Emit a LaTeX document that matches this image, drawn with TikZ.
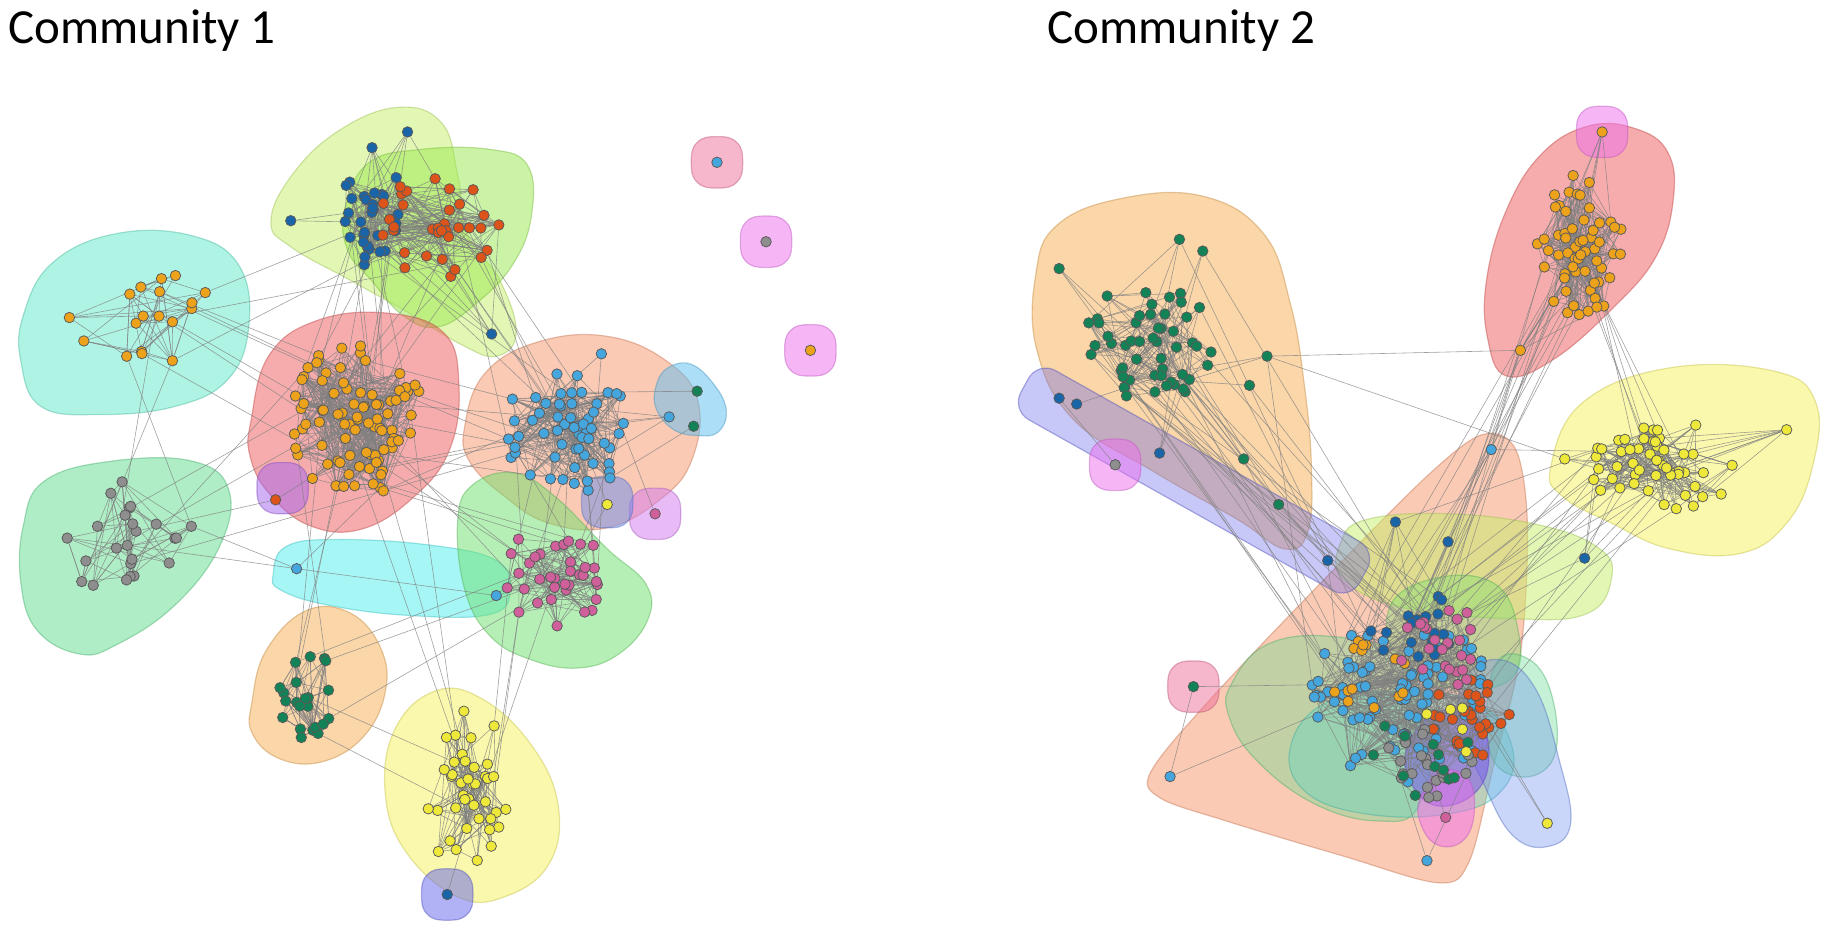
\documentclass[tikz,border=0pt]{standalone}
\usepackage{fontspec}
\setmainfont{Carlito}
\pgfdeclarelayer{blobs}
\pgfdeclarelayer{nodesfg}
\pgfsetlayers{blobs,main,nodesfg}
% node colours
\definecolor{nOrange}{HTML}{EDA21C}
\definecolor{nBlue}{HTML}{1A64A8}
\definecolor{nRed}{HTML}{DD541A}
\definecolor{nLight}{HTML}{45A6DE}
\definecolor{nGray}{HTML}{8E8E8E}
\definecolor{nPink}{HTML}{D0609C}
\definecolor{nGreen}{HTML}{148257}
\definecolor{nYellow}{HTML}{EEE83A}
% blob colours
\definecolor{bYG}{HTML}{C6F06A}
\definecolor{bGreenB}{HTML}{98E84E}
\definecolor{bAqua}{HTML}{5EE8C8}
\definecolor{bRed}{HTML}{EE5A5A}
\definecolor{bPeach}{HTML}{F6956A}
\definecolor{bSky}{HTML}{5CBDF0}
\definecolor{bPurple}{HTML}{A263EE}
\definecolor{bViolet}{HTML}{D278EE}
\definecolor{bLGreen}{HTML}{5EDC8C}
\definecolor{bCyan}{HTML}{4EEEEE}
\definecolor{bGreen}{HTML}{6CE06C}
\definecolor{bTan}{HTML}{F5AE52}
\definecolor{bYellow}{HTML}{F6F25A}
\definecolor{bIndigo}{HTML}{6464EC}
\definecolor{bPink}{HTML}{EE6E98}
\definecolor{bMagenta}{HTML}{EE6EEE}
\definecolor{bTeal}{HTML}{50D8C8}
\definecolor{bBlue}{HTML}{6A8CF0}
\definecolor{bViolet2}{HTML}{7A4CF0}
\tikzset{
  nd/.style={circle, draw=black!65, line width=0.75pt, fill=#1, minimum size=10.5pt, inner sep=0pt},
  edge/.style={draw=black!50, line width=0.6pt, draw opacity=0.75},
  blob/.style={fill=#1, fill opacity=0.5, draw=#1!80!black, draw opacity=0.45, line width=1.2pt},
  lblob/.style={blob=#1, fill opacity=0.36},
  title/.style={font=\fontsize{49pt}{57pt}\selectfont, anchor=base west, inner sep=0pt}
}
% cluster of nodes: prefix, N, cx, cy, sx, sy, colour
\newcommand\mkcl[7]{%
  \foreach \i in {1,...,#2}{%
    \pgfmathsetmacro\ang{360*rnd}%
    \pgfmathsetmacro\rad{rnd^0.65}%
    \pgfmathsetmacro\px{#3+#5*\rad*cos(\ang)}%
    \pgfmathsetmacro\py{#4+#6*\rad*sin(\ang)}%
    \node[nd=#7] (#1\i) at (\px,\py) {};
  }}
% edges inside a cluster: prefix, N, k
\newcommand\mked[3]{%
  \foreach \i in {1,...,#2}{%
    \foreach \k in {1,...,#3}{%
      \pgfmathtruncatemacro\j{min(#2,1+floor((rnd^1.6)*#2))}%
      \ifnum\j=\i\relax\else\draw[edge] (#1\i) -- (#1\j);\fi
    }}}
% edges between clusters: prefA, NA, prefB, NB, count
\newcommand\lk[5]{%
  \foreach \k in {1,...,#5}{%
    \pgfmathtruncatemacro\ia{min(#2,1+floor(rnd*#2))}%
    \pgfmathtruncatemacro\ib{min(#4,1+floor(rnd*#4))}%
    \draw[edge] (#1\ia) -- (#3\ib);
  }}
\newcommand\smb[3]{% small squircle blob: colour, x, y
  \path[blob=#1] plot[smooth cycle, tension=0.8] coordinates {(#2-22,#3) (#2-17,#3-17) (#2,#3-22) (#2+17,#3-17) (#2+22,#3) (#2+17,#3+17) (#2,#3+22) (#2-17,#3+17)};}
\begin{document}
\begin{tikzpicture}[x=1.1677pt, y=-1.1677pt]
\pgfmathsetseed{4242}
\useasboundingbox (0,0) rectangle (1568,797);
\node[title] (t1) at (7,37) {Community 1};
\node[title] (t2) at (897,37) {Community 2};

\begin{pgfonlayer}{blobs}
% ---------- Community 1 blobs
\path[blob=bYG] plot[smooth cycle, tension=0.7] coordinates {(232,190) (250,150) (290,112) (340,92) (378,105) (392,150) (400,200) (428,240) (442,285) (425,305) (395,295) (350,268) (300,240) (250,212)};
\path[blob=bGreenB] plot[smooth cycle, tension=0.7] coordinates {(295,180) (315,140) (360,128) (420,128) (452,142) (455,185) (440,225) (410,258) (375,280) (345,270) (318,240) (298,215)};
\path[blob=bAqua] plot[smooth cycle, tension=0.7] coordinates {(20,270) (45,225) (100,200) (165,202) (205,228) (213,280) (195,325) (150,348) (85,355) (35,348) (18,310)};
\path[blob=bRed] plot[smooth cycle, tension=0.7] coordinates {(215,360) (230,305) (270,275) (330,268) (380,285) (393,330) (385,385) (355,425) (310,453) (265,450) (230,422) (214,390)};
\path[blob=bPeach] plot[smooth cycle, tension=0.7] coordinates {(398,365) (415,320) (460,293) (520,288) (572,310) (598,345) (592,395) (565,428) (520,452) (470,448) (432,425) (402,395)};
\path[blob=bSky] plot[smooth cycle, tension=0.7] coordinates {(562,330) (572,315) (592,312) (612,330) (622,352) (615,370) (598,373) (577,368) (562,350)};
\path[blob=bLGreen] plot[smooth cycle, tension=0.7] coordinates {(20,450) (38,412) (95,395) (165,395) (196,420) (188,468) (150,518) (100,552) (68,560) (32,540) (18,500)};
\path[blob=bCyan] plot[smooth cycle, tension=0.7] coordinates {(234,492) (245,468) (290,462) (370,467) (425,480) (437,505) (420,526) (350,527) (280,518) (240,505)};
\path[blob=bGreen] plot[smooth cycle, tension=0.7] coordinates {(392,445) (405,415) (440,405) (475,425) (520,470) (553,500) (555,530) (530,560) (495,572) (455,565) (420,545) (398,505)};
\path[blob=bTan] plot[smooth cycle, tension=0.7] coordinates {(216,600) (228,557) (262,523) (300,525) (326,555) (330,592) (312,630) (277,652) (240,650) (216,628)};
\path[blob=bYellow] plot[smooth cycle, tension=0.7] coordinates {(330,680) (338,625) (372,592) (412,598) (455,638) (478,690) (470,740) (432,768) (392,768) (348,730)};
\smb{bIndigo}{383}{766}
\smb{bPink}{614}{139}
\smb{bMagenta}{656}{207}
\smb{bMagenta}{694}{300}
\smb{bPurple}{242}{418}
\smb{bViolet}{561}{440}
\smb{bBlue}{520}{430}
% ---------- Community 2 blobs
\path[blob=bTan] plot[smooth cycle, tension=0.7] coordinates {(887,235) (905,193) (960,170) (1030,168) (1082,200) (1105,260) (1117,330) (1123,400) (1120,455) (1100,470) (1060,445) (990,405) (920,360) (888,300)};
\path[blob=bPeach] plot[smooth cycle, tension=0.55] coordinates {(1270,372) (1298,385) (1308,450) (1302,560) (1278,660) (1258,738) (1232,756) (1150,733) (1050,703) (993,683) (986,660) (1040,595) (1140,490) (1225,405)};
\path[blob=bRed] plot[smooth cycle, tension=0.7] coordinates {(1290,322) (1274,290) (1273,240) (1290,180) (1320,132) (1360,108) (1400,110) (1428,130) (1433,170) (1418,220) (1380,265) (1330,308)};
\path[blob=bYellow] plot[smooth cycle, tension=0.7] coordinates {(1328,400) (1355,345) (1430,315) (1520,318) (1555,345) (1552,400) (1530,448) (1490,474) (1430,470) (1380,448) (1338,425)};
\path[blob=bYG] plot[smooth cycle, tension=0.7] coordinates {(1148,465) (1170,445) (1240,440) (1320,450) (1370,470) (1380,495) (1360,525) (1300,530) (1200,520) (1150,495)};
\path[lblob=bIndigo, rounded corners=20] (866,351) -- (889,309) -- (1179,472) -- (1156,514) -- cycle;
\smb{bMagenta}{955}{398}
\smb{bMagenta}{1372}{113}
\smb{bPink}{1022}{588}
\path[lblob=bLGreen] plot[smooth cycle, tension=0.7] coordinates {(1055,585) (1085,552) (1140,545) (1195,562) (1225,620) (1215,690) (1180,703) (1125,688) (1075,650) (1052,612)};
\path[lblob=bGreen] plot[smooth cycle, tension=0.7] coordinates {(1190,520) (1230,495) (1280,500) (1300,540) (1295,580) (1250,590) (1200,570)};
\path[lblob=bTeal] plot[smooth cycle, tension=0.7] coordinates {(1105,640) (1135,602) (1200,592) (1265,602) (1295,640) (1285,678) (1240,697) (1170,697) (1118,678)};
\path[lblob=bLGreen] plot[smooth cycle, tension=0.7] coordinates {(1280,570) (1310,565) (1330,600) (1330,650) (1300,665) (1275,640)};
\path[lblob=bBlue] plot[smooth cycle, tension=0.7] coordinates {(1255,580) (1285,565) (1315,590) (1335,650) (1345,705) (1325,725) (1295,715) (1270,670) (1250,620)};
\path[blob=bViolet2] plot[smooth cycle, tension=0.7] coordinates {(1205,640) (1230,610) (1265,615) (1275,650) (1262,680) (1230,690) (1208,670)};
\path[blob=bMagenta] plot[smooth cycle, tension=0.7] coordinates {(1218,680) (1235,660) (1258,668) (1262,700) (1250,722) (1228,722) (1215,700)};
\end{pgfonlayer}

\begin{pgfonlayer}{nodesfg}
% ---------- Community 1 nodes
\mkcl{bl}{34}{320}{178}{28}{52}{nBlue}
\mkcl{ore}{34}{375}{195}{55}{48}{nRed}
\mkcl{cy}{18}{118}{272}{72}{52}{nOrange}
\mkcl{rd}{90}{305}{360}{60}{66}{nOrange}
\mkcl{lb}{58}{488}{370}{62}{52}{nLight}
\mkcl{gr}{24}{100}{462}{70}{55}{nGray}
\mkcl{pk}{35}{470}{495}{52}{42}{nPink}
\mkcl{dg}{22}{262}{592}{25}{42}{nGreen}
\mkcl{yl}{40}{398}{675}{40}{70}{nYellow}
\node[nd=nBlue] (ob1) at (349,113) {};
\node[nd=nBlue] (ob2) at (249,189) {};
\node[nd=nBlue] (ob3) at (421,286) {};
\node[nd=nLight] (olb1) at (515,303) {};
\node[nd=nGreen] (sk1) at (597,335) {};
\node[nd=nGreen] (sk2) at (594,365) {};
\node[nd=nLight] (sk3) at (573,357) {};
\node[nd=nLight] (cyn1) at (254,487) {};
\node[nd=nLight] (cyn2) at (425,510) {};
\node[nd=nRed] (pu1) at (236,428) {};
\node[nd=nPink] (vi1) at (561,440) {};
\node[nd=nYellow] (lav1) at (520,432) {};
\node[nd=nLight] (iso1) at (614,139) {};
\node[nd=nGray] (iso2) at (656,207) {};
\node[nd=nOrange] (iso3) at (694,300) {};
\node[nd=nBlue] (ind1) at (383,766) {};
% ---------- Community 2 nodes
\mkcl{gg}{52}{985}{290}{55}{55}{nGreen}
\mkcl{ro}{58}{1352}{205}{40}{68}{nOrange}
\mkcl{yy}{52}{1425}{400}{65}{40}{nYellow}
\mkcl{cb}{85}{1200}{598}{82}{72}{nLight}
\mkcl{cdb}{18}{1210}{530}{40}{35}{nBlue}
\mkcl{co}{14}{1165}{575}{50}{35}{nOrange}
\mkcl{cor}{28}{1258}{610}{35}{40}{nRed}
\mkcl{cp}{24}{1235}{560}{35}{45}{nPink}
\mkcl{cg}{20}{1220}{650}{45}{35}{nGray}
\mkcl{cgg}{12}{1225}{645}{50}{40}{nGreen}
\mkcl{cyl}{5}{1240}{620}{25}{35}{nYellow}
\node[nd=nGreen] (go1) at (907,230) {};
\node[nd=nGreen] (go2) at (1085,305) {};
\node[nd=nGreen] (go3) at (1070,330) {};
\node[nd=nGreen] (go4) at (1095,432) {};
\node[nd=nGreen] (go5) at (1065,393) {};
\node[nd=nGreen] (go6) at (1030,215) {};
\node[nd=nGreen] (go7) at (1010,205) {};
\node[nd=nBlue] (pb1) at (907,341) {};
\node[nd=nBlue] (pb2) at (922,346) {};
\node[nd=nBlue] (pb3) at (1137,480) {};
\node[nd=nBlue] (pb4) at (993,388) {};
\node[nd=nGray] (mg1) at (955,398) {};
\node[nd=nOrange] (rx1) at (1302,300) {};
\node[nd=nOrange] (rx2) at (1372,113) {};
\node[nd=nYellow] (yx1) at (1530,368) {};
\node[nd=nYellow] (yx2) at (1340,393) {};
\node[nd=nBlue] (db1) at (1357,478) {};
\node[nd=nBlue] (db2) at (1195,447) {};
\node[nd=nBlue] (db3) at (1240,464) {};
\node[nd=nLight] (lbx1) at (1277,385) {};
\node[nd=nLight] (lbx2) at (1002,665) {};
\node[nd=nLight] (lbx3) at (1222,737) {};
\node[nd=nYellow] (ylx) at (1325,705) {};
\node[nd=nGreen] (pkx) at (1022,588) {};
\node[nd=nPink] (mgx) at (1238,700) {};
\end{pgfonlayer}

% ---------- Community 1 edges
\mked{bl}{34}{4}
\mked{ore}{34}{4}
\lk{bl}{34}{ore}{34}{60}
\mked{cy}{18}{3}
\mked{rd}{90}{5}
\mked{lb}{58}{5}
\mked{gr}{24}{3}
\mked{pk}{35}{4}
\mked{dg}{22}{4}
\mked{yl}{40}{4}
\lk{bl}{34}{ob}{3}{8}
\lk{ore}{34}{ob}{3}{4}
\lk{cy}{18}{rd}{90}{6}
\lk{cy}{18}{bl}{34}{2}
\lk{cy}{18}{ore}{34}{1}
\lk{gr}{24}{cy}{18}{3}
\lk{gr}{24}{rd}{90}{4}
\lk{rd}{90}{bl}{34}{8}
\lk{rd}{90}{ore}{34}{8}
\lk{rd}{90}{lb}{58}{10}
\lk{rd}{90}{pk}{35}{5}
\lk{rd}{90}{dg}{22}{4}
\lk{rd}{90}{yl}{40}{3}
\lk{ore}{34}{lb}{58}{6}
\lk{bl}{34}{lb}{58}{3}
\lk{lb}{58}{pk}{35}{10}
\lk{pk}{35}{yl}{40}{4}
\lk{dg}{22}{yl}{40}{2}
\lk{dg}{22}{pk}{35}{3}
\lk{lb}{58}{sk}{3}{6}
\draw[edge] (olb1) -- (lb1);
\draw[edge] (olb1) -- (lb4);
\draw[edge] (cyn1) -- (cyn2);
\draw[edge] (cyn1) -- (gr3);
\draw[edge] (cyn1) -- (gr7);
\draw[edge] (cyn1) -- (rd5);
\draw[edge] (cyn2) -- (pk2);
\draw[edge] (cyn2) -- (pk5);
\draw[edge] (pu1) -- (rd2);
\draw[edge] (pu1) -- (gr2);
\draw[edge] (vi1) -- (lb3);
\draw[edge] (lav1) -- (lb2);
\draw[edge] (lav1) -- (pk3);
\draw[edge] (ind1) -- (yl1);
% ---------- Community 2 edges
\mked{gg}{52}{3}
\mked{ro}{58}{5}
\mked{yy}{52}{4}
\mked{cb}{85}{3}
\mked{cdb}{18}{2}
\mked{cor}{28}{2}
\mked{cp}{24}{2}
\lk{gg}{52}{go}{7}{14}
\lk{gg}{52}{cb}{85}{12}
\lk{gg}{52}{cdb}{18}{6}
\lk{gg}{52}{pb}{4}{6}
\lk{go}{7}{cb}{85}{6}
\lk{ro}{58}{cb}{85}{8}
\lk{ro}{58}{cdb}{18}{5}
\lk{ro}{58}{yy}{52}{6}
\lk{ro}{58}{rx}{2}{14}
\lk{yy}{52}{cb}{85}{10}
\lk{yy}{52}{cdb}{18}{6}
\lk{yy}{52}{yx}{2}{12}
\lk{cb}{85}{cdb}{18}{25}
\lk{cb}{85}{co}{14}{20}
\lk{cb}{85}{cor}{28}{25}
\lk{cb}{85}{cp}{24}{25}
\lk{cb}{85}{cg}{20}{20}
\lk{cb}{85}{cgg}{12}{15}
\lk{cor}{28}{cp}{24}{15}
\lk{cg}{20}{cor}{28}{10}
\lk{cb}{85}{cyl}{5}{6}
\lk{cb}{85}{db}{3}{8}
\lk{yy}{52}{db}{3}{5}
\draw[edge] (go2) -- (rx1);
\draw[edge] (go2) -- (yx2);
\draw[edge] (rx1) -- (lbx1);
\draw[edge] (rx1) -- (cb3);
\draw[edge] (rx1) -- (cdb2);
\draw[edge] (lbx1) -- (cb1);
\draw[edge] (lbx1) -- (cb7);
\draw[edge] (lbx1) -- (yy2);
\draw[edge] (lbx2) -- (cb5);
\draw[edge] (lbx2) -- (pkx);
\draw[edge] (lbx3) -- (cg1);
\draw[edge] (lbx3) -- (cb9);
\draw[edge] (ylx) -- (cor1);
\draw[edge] (ylx) -- (cb11);
\draw[edge] (mgx) -- (cg2);
\draw[edge] (mg1) -- (pb1);
\draw[edge] (pb3) -- (cdb1);
\draw[edge] (pb3) -- (cb2);
\draw[edge] (pkx) -- (cb4);
\end{tikzpicture}
\end{document}
